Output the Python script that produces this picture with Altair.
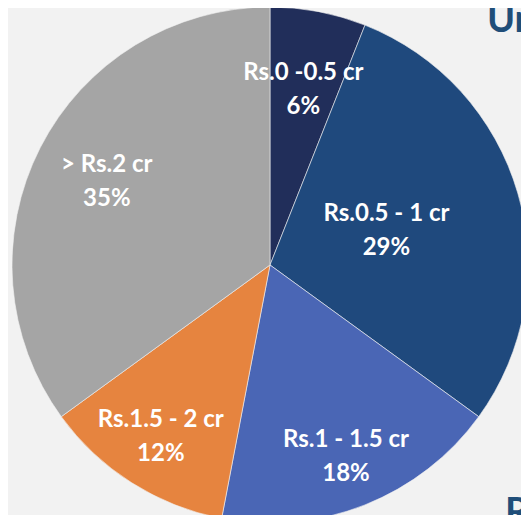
import altair as alt
import pandas as pd
import math

categories = ["Rs.0 -0.5 cr", "Rs.0.5 - 1 cr", "Rs.1 - 1.5 cr", "Rs.1.5 - 2 cr", "> Rs.2 cr"]
shares = [6, 29, 18, 12, 35]
colors = ["#212E5A", "#1F497D", "#4A66B5", "#E6843F", "#A5A5A5"]
# label distance from centre as a fraction of the pie radius (layout only)
label_radius_frac = [0.69, 0.47, 0.80, 0.79, 0.71]

R = 258
CX, CY = 262, 257

df = pd.DataFrame({
    "cat": categories,
    "share": shares,
    "order": list(range(len(categories))),
    "label": [f"{c}\n{s}%" for c, s in zip(categories, shares)],
    "lr": [f * R for f in label_radius_frac],
})

pie = alt.Chart(df).mark_arc(outerRadius=R, stroke="#F2F2F2", strokeWidth=0.6).encode(
    theta=alt.Theta("share:Q", stack=True),
    order=alt.Order("order:Q"),
    x=alt.value(CX), y=alt.value(CY),
    color=alt.Color("cat:N", scale=alt.Scale(domain=categories, range=colors), legend=None),
)

labels = alt.Chart(df).transform_joinaggregate(
    total="sum(share)"
).transform_window(
    cum="sum(share)", sort=[alt.SortField("order")], frame=[None, 0]
).transform_calculate(
    mid=f"(datum.cum - datum.share / 2) / datum.total * {2 * math.pi}"
).mark_text(
    font="Lato", fontWeight="bold", fontSize=24, color="white",
    lineBreak="\n", lineHeight=34, align="center", baseline="middle", dy=-17,
).encode(
    x=alt.value(CX), y=alt.value(CY),
    theta=alt.Theta("mid:Q", scale=None),
    radius=alt.Radius("lr:Q", scale=None),
    text="label:N",
)

side = pd.DataFrame({"t": ["Un", "R"], "px": [479, 497], "py": [24, 517]})
side_text = alt.Chart(side).mark_text(
    font="Lato", fontWeight="bold", fontSize=38, color="#1F4E79",
    align="left", baseline="alphabetic",
).encode(
    x=alt.X("px:Q", scale=None), y=alt.Y("py:Q", scale=None), text="t:N"
)

chart = alt.layer(pie, labels, side_text).properties(
    width=513, height=507, background="#F2F2F2", padding=0,
    autosize=alt.AutoSizeParams(type="none"),
).configure_view(stroke=None)

chart.save("out.html", embed_options={"renderer": "svg", "actions": False})
